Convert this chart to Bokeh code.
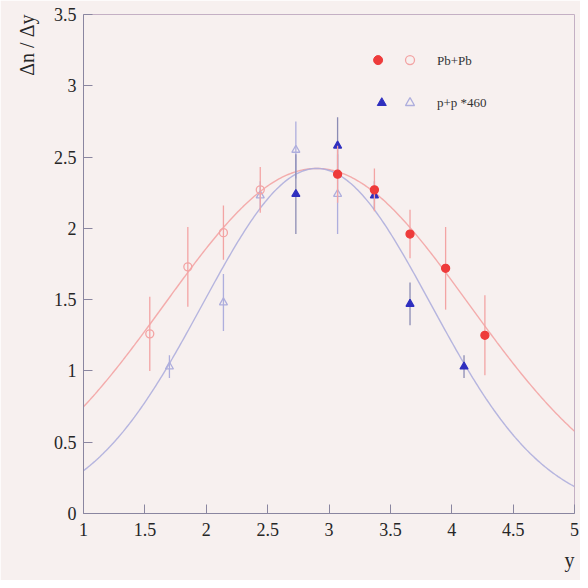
import numpy as np
from bokeh.plotting import figure
from bokeh.models import ColumnDataSource, Label, Title
from bokeh.embed import file_html
from bokeh.resources import INLINE

# ---- data ----
pbpb_y = [3.07, 3.37, 3.66, 3.95, 4.27]
pbpb_dn = [2.38, 2.27, 1.96, 1.72, 1.25]
pbpb_err = [0.20, 0.15, 0.17, 0.29, 0.28]

pbpb_refl_y = [1.54, 1.85, 2.14, 2.44]
pbpb_refl_dn = [1.26, 1.73, 1.97, 2.27]
pbpb_refl_err = [0.26, 0.28, 0.19, 0.16]

pp_y = [2.73, 3.07, 3.37, 3.66, 4.10]
pp_dn = [2.24, 2.58, 2.23, 1.47, 1.03]
pp_err = [0.28, 0.20, 0.10, 0.15, 0.08]

pp_refl_y = [1.70, 2.14, 2.44, 2.73, 3.07]
pp_refl_dn = [1.03, 1.48, 2.23, 2.55, 2.24]
pp_refl_err = [0.08, 0.20, 0.10, 0.20, 0.28]

# Gaussian fit parameters (amplitude, centre, width)
pbpb_fit = dict(amp=2.42, mu=2.90, sigma=1.24)
pp_fit = dict(amp=2.42, mu=2.90, sigma=0.93)

legend_labels = ["Pb+Pb", "p+p *460"]
x_ticks = [1, 1.5, 2, 2.5, 3, 3.5, 4, 4.5, 5]
y_ticks = [0, 0.5, 1, 1.5, 2, 2.5, 3, 3.5]
y_title = "\u0394n / \u0394y"
x_title = "y"

BG = "#f7f0ef"
RED = "#ee3b3b"
RED_LIGHT = "#f3a4a4"
BLUE = "#2f2fbf"
BLUE_LIGHT = "#aeaedd"
SERIF = "Liberation Serif"

p = figure(width=580, height=580, x_range=(1, 5), y_range=(0, 3.5),
           output_backend="svg", toolbar_location=None,
           min_border_left=83, min_border_right=6,
           min_border_top=14, min_border_bottom=67)
p.background_fill_color = BG
p.border_fill_color = BG
p.outline_line_color = "#c4b0c4"
p.xgrid.visible = False
p.ygrid.visible = False

for ax in (p.xaxis[0], p.yaxis[0]):
    ax.axis_line_color = "#8a86a0"
    ax.major_tick_line_color = "#8a86a0"
    ax.minor_tick_line_color = "#8a86a0"
    ax.major_tick_in = 9
    ax.major_tick_out = 0
    ax.minor_tick_in = 4
    ax.minor_tick_out = 0
    ax.major_label_text_font = SERIF
    ax.major_label_text_font_size = "18px"
    ax.major_label_text_color = "#262626"
p.xaxis.ticker = x_ticks
p.yaxis.ticker = y_ticks
p.xaxis[0].ticker.num_minor_ticks = 5
p.yaxis[0].ticker.num_minor_ticks = 5
p.xaxis.major_label_standoff = 9
p.yaxis.major_label_standoff = 7
p.xaxis.major_label_overrides = {1: "1", 2: "2", 3: "3", 4: "4", 5: "5"}
p.yaxis.major_label_overrides = {0: "0", 1: "1", 2: "2", 3: "3"}

# axis titles as side titles
p.add_layout(Title(text=y_title, align="right", text_font=SERIF, text_font_size="20px",
                   text_font_style="normal", text_color="#262626", standoff=25), "left")
p.add_layout(Title(text=x_title, align="right", text_font=SERIF, text_font_size="20px",
                   text_font_style="normal", text_color="#262626", standoff=17), "below")

# fit curves
xs = np.linspace(1, 5, 300)
for fit, col in ((pbpb_fit, RED_LIGHT), (pp_fit, BLUE_LIGHT)):
    ys = fit["amp"] * np.exp(-(xs - fit["mu"]) ** 2 / (2 * fit["sigma"] ** 2))
    p.line(xs, ys, line_color=col, line_width=1.4, line_alpha=0.9)


def add_points(xv, yv, ev, marker, fill, line, bar_col, size):
    src = ColumnDataSource(dict(x=xv, y=yv,
                                lo=[a - b for a, b in zip(yv, ev)],
                                hi=[a + b for a, b in zip(yv, ev)]))
    p.segment(x0="x", y0="lo", x1="x", y1="hi", source=src,
              line_color=bar_col, line_width=1.3)
    p.scatter(x="x", y="y", source=src, marker=marker, size=size,
              fill_color=fill, line_color=line, line_width=1.3)


add_points(pp_refl_y, pp_refl_dn, pp_refl_err, "triangle", None, BLUE_LIGHT, BLUE_LIGHT, 8)
add_points(pbpb_refl_y, pbpb_refl_dn, pbpb_refl_err, "circle", None, RED_LIGHT, RED_LIGHT, 8)
add_points(pp_y, pp_dn, pp_err, "triangle", BLUE, BLUE, "#8c8cb4", 8)
add_points(pbpb_y, pbpb_dn, pbpb_err, "circle", RED, RED, RED_LIGHT, 8)

# legend (manual, two markers per entry)
leg_y = [3.18, 2.88]
p.scatter([3.40], [leg_y[0]], marker="circle", size=9, fill_color=RED, line_color=RED)
p.scatter([3.66], [leg_y[0]], marker="circle", size=9, fill_color=None, line_color=RED_LIGHT, line_width=1.3)
p.scatter([3.43], [leg_y[1]], marker="triangle", size=9, fill_color=BLUE, line_color=BLUE)
p.scatter([3.66], [leg_y[1]], marker="triangle", size=9, fill_color=None, line_color=BLUE_LIGHT, line_width=1.3)
for lab, ly in zip(legend_labels, leg_y):
    p.add_layout(Label(x=3.88, y=ly, text=lab, text_font=SERIF, text_font_size="13px",
                       text_color="#333333", text_baseline="middle", text_align="left"))

html = file_html(p, INLINE)
html = html.replace("<body>", '<body style="background:%s">' % BG, 1)
open("out.html", "w").write(html)
